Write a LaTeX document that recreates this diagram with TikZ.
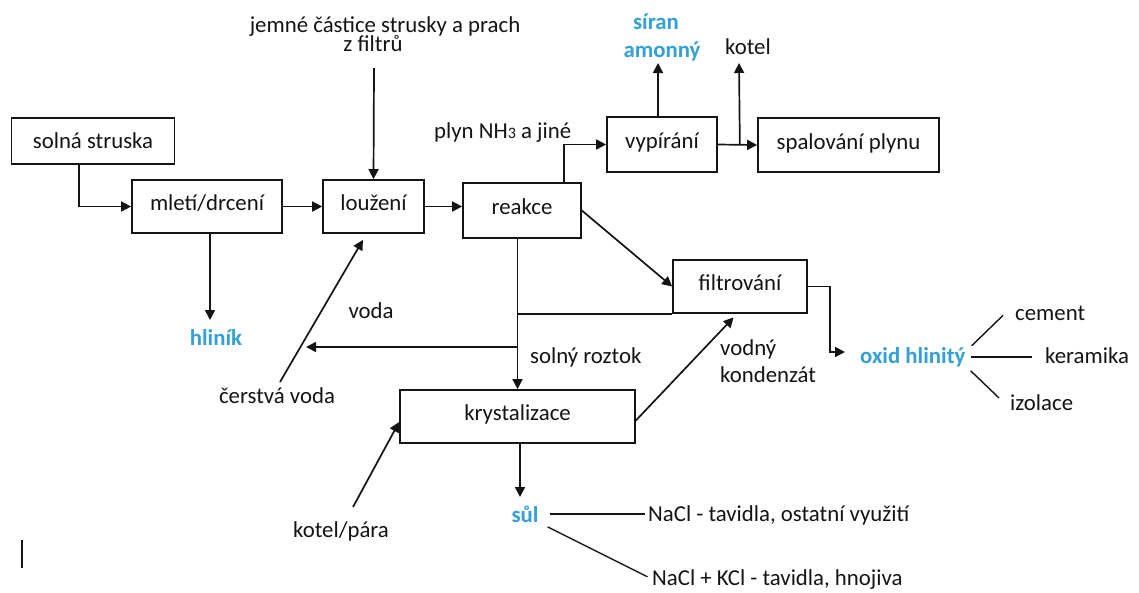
\documentclass[tikz,border=0pt]{standalone}
\usepackage{fontspec}
\setmainfont{Carlito}
\usetikzlibrary{arrows.meta,calc}
\definecolor{prodblue}{RGB}{52,160,214}
\definecolor{ink}{RGB}{20,20,20}
\begin{document}
\begin{tikzpicture}[x=1pt,y=-1pt,
  every node/.style={font=\fontsize{22.8pt}{27pt}\selectfont, text=ink},
  box/.style={draw=ink, line width=1.7pt, inner sep=0pt, text height=14pt, text depth=6pt},
  lbl/.style={inner sep=0pt, anchor=base},
  lblw/.style={inner sep=0pt, anchor=base west},
  prod/.style={font=\fontsize{22.8pt}{27pt}\selectfont\bfseries, text=prodblue},
  arr/.style={draw=ink, line width=1.7pt, -{Triangle[length=10pt,width=10pt]}},
  ln/.style={draw=ink, line width=1.4pt}]

\useasboundingbox (0,0) rectangle (1139,592);
\fill[white] (0,0) rectangle (1139,592);

% process steps
\node[box, minimum width=163pt, minimum height=46pt, text height=17pt, text depth=3pt] (ss) at (93,141) {solná struska};
\node[box, minimum width=150pt, minimum height=53pt] (md) at (207,206.5) {mletí/drcení};
\node[box, minimum width=101pt, minimum height=53pt] (lz) at (373.5,206.5) {loužení};
\node[box, minimum width=118pt, minimum height=55pt] (re) at (522,210.5) {reakce};
\node[box, minimum width=110pt, minimum height=55pt] (vy) at (662,144.5) {vypírání};
\node[box, minimum width=181pt, minimum height=54pt] (sp) at (848.5,145) {spalování plynu};
\node[box, minimum width=134pt, minimum height=53pt] (fi) at (740,286.5) {filtrování};
\node[box, minimum width=235pt, minimum height=53pt] (kr) at (517.5,416.5) {krystalizace};

% inputs and side streams
\node[lbl] (jem1) at (385,32) {jemné částice strusky a prach};
\node[lbl] (jem2) at (373,51) {z filtrů};
\node[lblw] (plyn) at (434,138) {plyn NH{\fontsize{16pt}{16pt}\selectfont 3} a jiné};
\node[lbl] (kotel) at (748,54) {kotel};
\node[lbl] (voda) at (371,318) {voda};
\node[lblw] (sr) at (530,363) {solný roztok};
\node[lbl] (cv) at (277,403) {čerstvá voda};
\node[lblw] (vk1) at (720,355) {vodný};
\node[lblw] (vk2) at (720,382) {kondenzát};
\node[lbl] (kp) at (341,537) {kotel/pára};

% products
\node[lbl, prod] (sa1) at (656,29) {síran};
\node[lbl, prod] (sa2) at (662,57) {amonný};
\node[lbl, prod] (hl) at (216,345) {hliník};
\node[lbl, prod] (sul) at (525,522) {sůl};
\node[lblw, prod] (ox) at (860,363) {oxid hlinitý};

% uses
\node[lblw] (n1) at (648,521) {NaCl - tavidla, ostatní využití};
\node[lblw] (n2) at (652,585) {NaCl + KCl - tavidla, hnojiva};
\node[lblw] (ce) at (1015,320) {cement};
\node[lblw] (ke) at (1045,363) {keramika};
\node[lblw] (iz) at (1010,410) {izolace};

% free ends of the streams
\coordinate (jemS) at (374,68);
\coordinate (kotT) at (739,63);
\coordinate (saT)  at (658,63);
\coordinate (hlT)  at (210,320);
\coordinate (vT)   at (306,347);
\coordinate (cvS)  at (280,382);
\coordinate (kpS)  at (353,507);
\coordinate (sulT) at (520,497);
\coordinate (oxT)  at (845,352);

% main line
\draw[arr] ([xshift=68pt]ss.south west) |- (md.west);
\draw[arr] (md.east) -- (lz.west);
\draw[arr] (lz.east) -- (lz.east -| re.west);
\draw[arr] (jemS) -- (lz.north);
\draw[arr] ([xshift=-18pt]re.north east) |- (vy.west);
\draw[arr] (vy.east) -- (sp.west);
\draw[arr] ([xshift=22pt]vy.east) -- (kotT);
\draw[arr] ([xshift=-4pt]vy.north) -- (saT);
\draw[arr] ([xshift=3pt]md.south) -- (hlT);
\draw[arr] (re.east) -- (fi.west);
\draw[arr] (re.south -| kr.north) -- (kr.north);
\draw[ln] (fi.south west) -- (fi.south west -| kr.north);
\draw[arr] (vT -| kr.north) -- (vT);
\draw[arr, shorten >=7pt] (cvS) -- ([xshift=-7pt]lz.south);
\draw[arr, shorten >=5pt] ([yshift=-4pt]kr.east) -- ([xshift=-3pt]fi.south);
\draw[arr] (kpS) -- ([yshift=-5.5pt]kr.west);
\draw[arr] ([xshift=2.5pt]kr.south) -- (sulT);
\draw[arr] (fi.east) -- ++(22,0) |- (oxT);

% salt uses
\draw[ln, shorten <=11pt, shorten >=3pt] (sul.east) -- (sul.east -| n1.west);
\draw[ln, shorten <=10pt, shorten >=5pt] (sul.south east) -- (n2.west);

% alumina uses
\draw[ln] ([xshift=6pt,yshift=1pt]ox.north east) -- ([xshift=-12pt,yshift=5pt]ce.south west);
\draw[ln, shorten <=5pt, shorten >=13pt] (ox.east) -- (ox.east -| ke.west);
\draw[ln] ([xshift=5pt,yshift=-4pt]ox.south east) -- ([xshift=-11pt,yshift=-4pt]iz.north west);

% stray mark at the lower left
\draw[line width=1.7pt, ink] (22,540) -- (22,568);
\end{tikzpicture}
\end{document}
